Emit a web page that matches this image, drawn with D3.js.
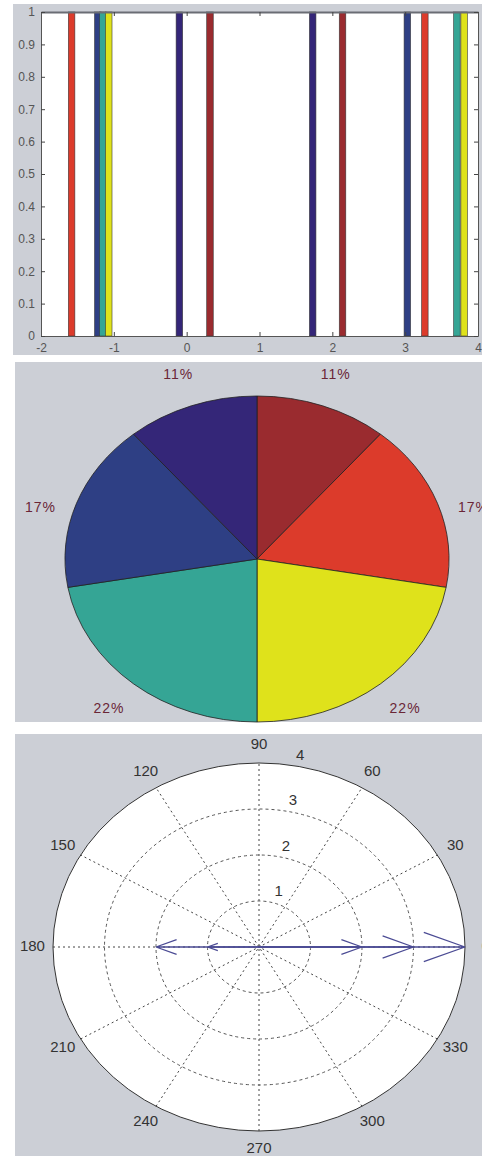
<!DOCTYPE html>
<html>
<head>
<meta charset="utf-8">
<script src="https://cdn.jsdelivr.net/npm/d3@7"></script>
<style>
  body { margin: 0; background: #ffffff; }
  svg { display: block; }
</style>
</head>
<body>
<svg id="chart"></svg>
<script>
const width = 482, height = 1156;

// top panel: unit bars along x
const barX = [-1.58, -1.22, -1.15, -1.07, -0.1, 0.32, 1.73, 2.14, 3.03, 3.27, 3.71, 3.81];
const barH = [1, 1, 1, 1, 1, 1, 1, 1, 1, 1, 1, 1];
const barColor = ["red", "blue", "teal", "yellow", "navy", "darkred", "navy", "darkred", "blue", "red", "teal", "yellow"];
const xTicks = [-2, -1, 0, 1, 2, 3, 4];
const yTicks = [0, 0.1, 0.2, 0.3, 0.4, 0.5, 0.6, 0.7, 0.8, 0.9, 1];

// middle panel: pie
const pieNames = ["darkred", "red", "yellow", "teal", "blue", "navy"];
const pieValues = [2, 3, 4, 4, 3, 2];

// bottom panel: compass
const compassU = [4, 3, 2, -1, -2];
const compassV = [0, 0, 0, 0, 0];
const angleTicks = [0, 30, 60, 90, 120, 150, 180, 210, 240, 270, 300, 330];
const ringTicks = [1, 2, 3, 4];

const colors = {
  darkred: "#9a2b2f", red: "#dc3b2b", yellow: "#dfe21b",
  teal: "#35a595", blue: "#2e3f84", navy: "#342678"
};
const panelBg = "#cccfd6";

const svg = d3.select("#chart")
    .attr("width", width)
    .attr("height", height)
    .style("font-family", "'Liberation Sans', Arial, sans-serif");

// ---------- top panel ----------
svg.append("rect")
    .attr("x", 13).attr("y", 4)
    .attr("width", 469).attr("height", 351)
    .attr("fill", panelBg);

const m1 = {left: 41, right: 478, top: 12, bottom: 336};

const xScale = d3.scaleLinear().domain([-2, 4]).range([m1.left, m1.right]);
const yScale = d3.scaleLinear().domain([0, 1]).range([m1.bottom, m1.top]);

svg.append("rect")
    .attr("x", m1.left).attr("y", m1.top)
    .attr("width", m1.right - m1.left).attr("height", m1.bottom - m1.top)
    .attr("fill", "#ffffff");

const barW = 0.09;
svg.append("g").selectAll("rect")
    .data(barX)
    .join("rect")
    .attr("x", d => xScale(d - barW / 2))
    .attr("y", (d, i) => yScale(barH[i]))
    .attr("width", xScale(barW) - xScale(0))
    .attr("height", (d, i) => yScale(0) - yScale(barH[i]))
    .attr("fill", (d, i) => colors[barColor[i]])
    .attr("stroke", "#3a3a3a")
    .attr("stroke-width", 0.6);

svg.append("g")
    .attr("transform", `translate(0,${m1.bottom})`)
    .call(d3.axisBottom(xScale).tickValues(xTicks).tickSizeInner(-4).tickSizeOuter(0).tickPadding(7)
        .tickFormat(d => String(d)));

const topAxis = svg.append("g")
    .attr("transform", `translate(0,${m1.top})`)
    .call(d3.axisTop(xScale).tickValues(xTicks).tickSizeInner(-4).tickSizeOuter(0).tickFormat(""));

svg.append("g")
    .attr("transform", `translate(${m1.left},0)`)
    .call(d3.axisLeft(yScale).tickValues(yTicks).tickSizeInner(-4).tickSizeOuter(0).tickPadding(6)
        .tickFormat(d => (d === 0 || d === 1) ? String(d) : d.toFixed(1)));

svg.append("g")
    .attr("transform", `translate(${m1.right},0)`)
    .call(d3.axisRight(yScale).tickValues(yTicks).tickSizeInner(-4).tickSizeOuter(0).tickFormat(""));

svg.selectAll(".domain").attr("stroke", "#555");
topAxis.select(".domain").attr("stroke", "#6a6d74").attr("stroke-width", 2);
svg.selectAll(".tick line").attr("stroke", "#444");
svg.selectAll(".tick text")
    .attr("fill", "#555")
    .style("font-size", "12px")
    .style("font-family", "'Liberation Sans', Arial, sans-serif");

// ---------- middle panel: pie ----------
svg.append("rect")
    .attr("x", 15).attr("y", 362)
    .attr("width", 467).attr("height", 360)
    .attr("fill", panelBg);

const pieC = {x: 257, y: 559, rx: 192, ry: 163};
const total = d3.sum(pieValues);
const arcs = d3.pie().sort(null)(pieValues);
const arcGen = d3.arc().innerRadius(0).outerRadius(1);

const pieG = svg.append("g")
    .attr("transform", `translate(${pieC.x},${pieC.y}) scale(${pieC.rx},${pieC.ry})`);

pieG.selectAll("path")
    .data(arcs)
    .join("path")
    .attr("d", arcGen)
    .attr("fill", (d, i) => colors[pieNames[i]])
    .attr("stroke", "#222")
    .attr("stroke-width", 0.8)
    .attr("vector-effect", "non-scaling-stroke");

svg.append("g").selectAll("text")
    .data(arcs)
    .join("text")
    .attr("x", d => pieC.x + 1.2 * pieC.rx * Math.sin((d.startAngle + d.endAngle) / 2))
    .attr("y", d => {
        const a = (d.startAngle + d.endAngle) / 2;
        const side = Math.abs(Math.sin(a)) > 0.85 ? 16 : 0;
        return pieC.y - 1.2 * pieC.ry * Math.cos(a) + side;
    })
    .attr("text-anchor", "middle")
    .attr("dominant-baseline", "middle")
    .attr("fill", "#6a2636")
    .style("font-size", "14px")
    .style("letter-spacing", "1px")
    .text(d => Math.round(d.value / total * 100) + "%");

// ---------- bottom panel: compass ----------
svg.append("rect")
    .attr("x", 15).attr("y", 734)
    .attr("width", 467).attr("height", 422)
    .attr("fill", panelBg);

const pc = {x: 259, y: 947, rx: 206, ry: 184};
const rmax = d3.max(ringTicks);
const px = d3.scaleLinear().domain([-rmax, rmax]).range([pc.x - pc.rx, pc.x + pc.rx]);
const py = d3.scaleLinear().domain([-rmax, rmax]).range([pc.y + pc.ry, pc.y - pc.ry]);

const polar = svg.append("g");

polar.append("ellipse")
    .attr("cx", px(0)).attr("cy", py(0))
    .attr("rx", px(rmax) - px(0)).attr("ry", py(0) - py(rmax))
    .attr("fill", "#ffffff");

// spokes
polar.selectAll("line.spoke")
    .data(angleTicks.filter(a => a < 180))
    .join("line")
    .attr("class", "spoke")
    .attr("x1", a => px(-rmax * Math.cos(a * Math.PI / 180)))
    .attr("y1", a => py(-rmax * Math.sin(a * Math.PI / 180)))
    .attr("x2", a => px(rmax * Math.cos(a * Math.PI / 180)))
    .attr("y2", a => py(rmax * Math.sin(a * Math.PI / 180)))
    .attr("stroke", "#444")
    .attr("stroke-width", 1)
    .attr("stroke-dasharray", "2,3");

// rings
polar.selectAll("ellipse.ring")
    .data(ringTicks)
    .join("ellipse")
    .attr("class", "ring")
    .attr("cx", px(0)).attr("cy", py(0))
    .attr("rx", r => px(r) - px(0))
    .attr("ry", r => py(0) - py(r))
    .attr("fill", "none")
    .attr("stroke", r => r === rmax ? "#333" : "#555")
    .attr("stroke-width", 1)
    .attr("stroke-dasharray", r => r === rmax ? null : "3,3");

// ring labels at 82 degrees
const a82 = 82 * Math.PI / 180;
polar.selectAll("text.ring")
    .data(ringTicks)
    .join("text")
    .attr("class", "ring")
    .attr("x", r => px((r + 0.05) * Math.cos(a82)) + 8)
    .attr("y", r => py((r + 0.05) * Math.sin(a82)) - 3)
    .attr("fill", "#333")
    .style("font-size", "15px")
    .text(r => r);

// angle labels
polar.selectAll("text.angle")
    .data(angleTicks)
    .join("text")
    .attr("class", "angle")
    .attr("x", a => px(1.1 * rmax * Math.cos(a * Math.PI / 180)))
    .attr("y", a => py(1.1 * rmax * Math.sin(a * Math.PI / 180)))
    .attr("text-anchor", "middle")
    .attr("dominant-baseline", "middle")
    .attr("fill", "#333")
    .style("font-size", "15px")
    .text(a => a);

// compass arrows
const arrowPath = (u, v) => {
    const tip = [u, v];
    const b1 = [0.8 * u - 0.08 * v, 0.8 * v + 0.08 * u];
    const b2 = [0.8 * u + 0.08 * v, 0.8 * v - 0.08 * u];
    return `M${px(0)},${py(0)}L${px(tip[0])},${py(tip[1])}` +
        `L${px(b1[0])},${py(b1[1])}M${px(tip[0])},${py(tip[1])}L${px(b2[0])},${py(b2[1])}`;
};

polar.selectAll("path.arrow")
    .data(compassU)
    .join("path")
    .attr("class", "arrow")
    .attr("d", (u, i) => arrowPath(u, compassV[i]))
    .attr("fill", "none")
    .attr("stroke", "#4b4b94")
    .attr("stroke-width", 1.3);
</script>
</body>
</html>
